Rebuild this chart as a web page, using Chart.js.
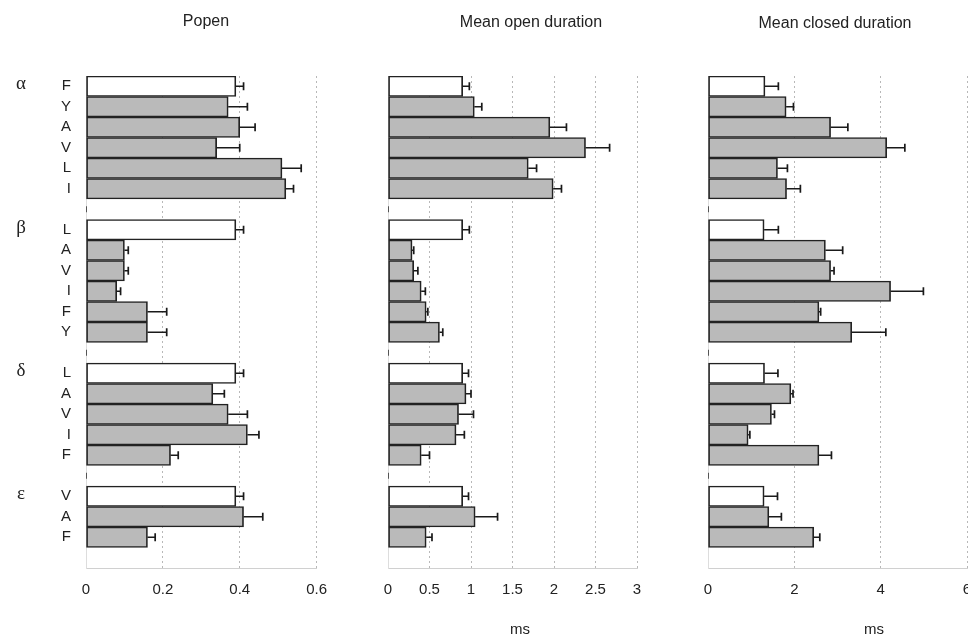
<!DOCTYPE html>
<html>
<head>
<meta charset="utf-8">
<script src="https://cdn.jsdelivr.net/npm/chart.js@4.4.0/dist/chart.umd.min.js"></script>
<style>
  body { margin: 0; width: 968px; height: 634px; overflow: hidden; background: #fff;
         font-family: "Liberation Sans", Arial, sans-serif; color: #222; }
  .panel { position: absolute; top: 0; }
  .txt { position: absolute; transform: translate(-50%, -50%); white-space: nowrap; }
</style>
</head>
<body>
<div class="panel" style="left:0px"><canvas id="chartPopen" width="340" height="634"></canvas></div>
<div class="panel" style="left:340px"><canvas id="chartOpen" width="320" height="634"></canvas></div>
<div class="panel" style="left:650px"><canvas id="chartClosed" width="340" height="634"></canvas></div>

<div class="txt" style="left:206px; top:21px; font-size:16px">Popen</div>
<div class="txt" style="left:531px; top:22px; font-size:16px">Mean open duration</div>
<div class="txt" style="left:835px; top:23px; font-size:16px">Mean closed duration</div>
<div class="txt" style="left:520px; top:628px; font-size:15px">ms</div>
<div class="txt" style="left:874px; top:628px; font-size:15px">ms</div>

<script>
// subunits and the mutated residues in each (first one = wild type, white bar)
const subunits = ["α", "β", "δ", "ε"];
const residues = [
  ["F", "Y", "A", "V", "L", "I"],
  ["L", "A", "V", "I", "F", "Y"],
  ["L", "A", "V", "I", "F"],
  ["V", "A", "F"]
];

// Popen
const popen    = [[0.39, 0.37, 0.40, 0.34, 0.51, 0.52], [0.39, 0.10, 0.10, 0.08, 0.16, 0.16], [0.39, 0.33, 0.37, 0.42, 0.22], [0.39, 0.41, 0.16]];
const popenErr = [[0.02, 0.05, 0.04, 0.06, 0.05, 0.02], [0.02, 0.01, 0.01, 0.01, 0.05, 0.05], [0.02, 0.03, 0.05, 0.03, 0.02], [0.02, 0.05, 0.02]];

// mean open duration (ms)
const openDur    = [[0.90, 1.04, 1.95, 2.38, 1.69, 1.99], [0.90, 0.29, 0.31, 0.40, 0.46, 0.62], [0.90, 0.94, 0.85, 0.82, 0.40], [0.90, 1.05, 0.46]];
const openDurErr = [[0.08, 0.09, 0.20, 0.29, 0.10, 0.10], [0.08, 0.02, 0.05, 0.05, 0.02, 0.04], [0.07, 0.06, 0.18, 0.10, 0.10], [0.07, 0.27, 0.07]];

// mean closed duration (ms)
const closedDur    = [[1.32, 1.81, 2.84, 4.14, 1.61, 1.82], [1.30, 2.72, 2.84, 4.23, 2.57, 3.33], [1.31, 1.92, 1.47, 0.93, 2.57], [1.30, 1.41, 2.45]];
const closedDurErr = [[0.31, 0.17, 0.40, 0.42, 0.23, 0.32], [0.33, 0.40, 0.08, 0.76, 0.04, 0.79], [0.31, 0.05, 0.07, 0.04, 0.29], [0.31, 0.29, 0.14]];

// flatten groups, one empty row after each group
function flatten(groups, gapValue) {
  const out = [];
  groups.forEach(g => {
    g.forEach(v => out.push(v));
    out.push(gapValue);
  });
  return out;
}

const labels = flatten(residues, "");
const groupStarts = [];
const gapRows = [];
let idx = 0;
residues.forEach(g => {
  groupStarts.push(idx);
  idx += g.length;
  gapRows.push(idx);
  idx += 1;
});
const barColors = labels.map((l, i) => groupStarts.includes(i) ? "#ffffff" : "#bababa");

const errorBarsPlugin = {
  id: "errorBars",
  afterDatasetsDraw(chart) {
    const ctx = chart.ctx;
    const ds = chart.data.datasets[0];
    const meta = chart.getDatasetMeta(0);
    const x = chart.scales.x;
    ctx.save();
    ctx.strokeStyle = "#1a1a1a";
    ctx.lineWidth = 1.7;
    meta.data.forEach((bar, i) => {
      const v = ds.data[i];
      if (v == null) return;
      const x0 = x.getPixelForValue(v);
      const x1 = x.getPixelForValue(v + ds.errors[i]);
      ctx.beginPath();
      ctx.moveTo(x0, bar.y);
      ctx.lineTo(x1, bar.y);
      ctx.moveTo(x1, bar.y - 4);
      ctx.lineTo(x1, bar.y + 4);
      ctx.stroke();
    });
    ctx.restore();
  }
};

// small marks on the category axis at the empty rows, and the subunit names
const groupMarksPlugin = {
  id: "groupMarks",
  afterDraw(chart, args, opts) {
    const ctx = chart.ctx;
    const y = chart.scales.y;
    const left = chart.chartArea.left;
    ctx.save();
    ctx.strokeStyle = "#555";
    ctx.lineWidth = 1;
    gapRows.slice(0, -1).forEach(r => {
      const py = y.getPixelForValue(r);
      ctx.beginPath();
      ctx.moveTo(left + 0.5, py - 3);
      ctx.lineTo(left + 0.5, py + 3);
      ctx.stroke();
    });
    if (opts.names) {
      ctx.fillStyle = "#222";
      ctx.font = "19px 'Liberation Serif', 'DejaVu Serif', serif";
      ctx.textAlign = "center";
      ctx.textBaseline = "middle";
      groupStarts.forEach((r, i) => {
        ctx.fillText(subunits[i], 21, y.getPixelForValue(r) - 2);
      });
    }
    ctx.restore();
  }
};

function makeChart(id, values, errors, max, step, yWidth, padRight, showNames) {
  return new Chart(id, {
    type: "bar",
    data: {
      labels: labels,
      datasets: [{
        data: flatten(values, null),
        errors: flatten(errors, 0),
        backgroundColor: barColors,
        borderColor: "#222",
        borderWidth: 1.7,
        borderSkipped: false,
        barPercentage: 1,
        categoryPercentage: 1
      }]
    },
    options: {
      indexAxis: "y",
      responsive: false,
      animation: false,
      layout: { padding: { top: 76, right: padRight, bottom: 0, left: 0 } },
      plugins: {
        legend: { display: false },
        tooltip: { enabled: false },
        groupMarks: { names: showNames }
      },
      scales: {
        x: {
          min: 0,
          max: max,
          afterFit: (scale) => { scale.height = 66; },
          ticks: {
            stepSize: step,
            padding: 13,
            color: "#222",
            font: { size: 15, family: "'Liberation Sans', Arial" },
            callback: (v) => String(Math.round(v * 100) / 100)
          },
          grid: {
            drawTicks: false,
            color: (c) => c.tick && c.tick.value === 0 ? "rgba(0,0,0,0)" : "#b8b8b8",
            lineWidth: 1
          },
          border: { color: "#d0d0d0", dash: [2, 3] }
        },
        y: {
          afterFit: (scale) => { scale.width = yWidth; },
          ticks: { display: showNames, padding: 15, color: "#222", autoSkip: false, font: { size: 15, family: "'Liberation Sans', Arial" } },
          grid: { drawOnChartArea: false, drawTicks: false },
          border: { color: "#dddddd" }
        }
      }
    },
    plugins: [errorBarsPlugin, groupMarksPlugin]
  });
}

makeChart("chartPopen", popen, popenErr, 0.6, 0.2, 86, 19, true);
makeChart("chartOpen", openDur, openDurErr, 3, 0.5, 48, 23, false);
makeChart("chartClosed", closedDur, closedDurErr, 6, 2, 58, 23, false);
</script>
</body>
</html>
